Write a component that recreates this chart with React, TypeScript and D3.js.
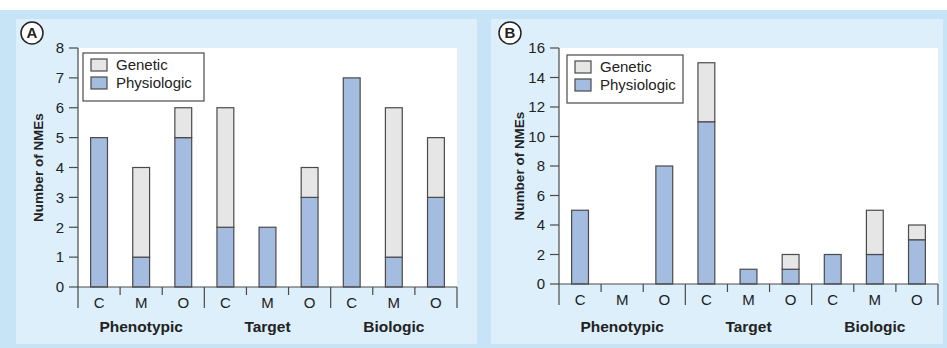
import * as d3 from 'd3'
import { useEffect, useRef } from 'react'

const groups = ['Phenotypic', 'Target', 'Biologic']
const subs = ['C', 'M', 'O']
const seriesNames = ['Genetic', 'Physiologic']

// panel A
const physA = [5, 1, 5, 2, 2, 3, 7, 1, 3]
const genA = [0, 3, 1, 4, 0, 1, 0, 5, 2]
const ticksA = [0, 1, 2, 3, 4, 5, 6, 7, 8]

// panel B
const physB = [5, 0, 8, 11, 1, 1, 2, 2, 3]
const genB = [0, 0, 0, 4, 0, 1, 0, 3, 1]
const ticksB = [0, 2, 4, 6, 8, 10, 12, 14, 16]

const BLUE = '#a3bce0'
const GREY = '#e6e6e6'
const STROKE = '#4a4a4a'
const FONT = '"Liberation Sans", Arial, sans-serif'

function drawPanel(svg, opt) {
  const g = svg.append('g')
  g.append('rect').attr('x', opt.px).attr('y', 19).attr('width', opt.pw).attr('height', 325).attr('fill', '#ddeffb')

  const keys = groups.flatMap(gr => subs.map(s => gr + '-' + s))
  const x = d3.scaleBand().domain(keys).range([opt.x0, opt.x1]).paddingInner(0).paddingOuter(0)
  const y = d3.scaleLinear().domain([0, opt.max]).range([opt.y0, 48])

  g.append('rect').attr('x', opt.x0).attr('y', 48).attr('width', opt.x1 - opt.x0).attr('height', opt.y0 - 48).attr('fill', '#fff')

  // y axis
  g.append('line').attr('x1', opt.x0).attr('x2', opt.x0).attr('y1', 48).attr('y2', opt.y0).attr('stroke', STROKE).attr('stroke-width', 1.2)
  opt.ticks.forEach(t => {
    g.append('line').attr('x1', opt.x0 - 9).attr('x2', opt.x0).attr('y1', y(t)).attr('y2', y(t)).attr('stroke', STROKE).attr('stroke-width', 1.2)
    g.append('text').attr('x', opt.x0 - 14).attr('y', y(t)).attr('dy', '0.35em').attr('text-anchor', 'end')
      .style('font', `15px ${FONT}`).attr('fill', '#222').text(t)
  })
  g.append('text').attr('transform', `translate(${opt.x0 - 40},${(48 + opt.y0) / 2}) rotate(-90)`)
    .attr('text-anchor', 'middle').attr('dy', '0.35em').style('font', `bold 13.5px ${FONT}`).attr('fill', '#222').text('Number of NMEs')

  // bars
  const bw = x.bandwidth() * 0.4
  keys.forEach((k, i) => {
    const cx = x(k) + x.bandwidth() / 2
    const p = opt.phys[i], gn = opt.gen[i]
    if (p > 0) {
      g.append('rect').attr('x', cx - bw / 2).attr('y', y(p)).attr('width', bw).attr('height', y(0) - y(p))
        .attr('fill', BLUE).attr('stroke', STROKE).attr('stroke-width', 1.2)
    }
    if (gn > 0) {
      g.append('rect').attr('x', cx - bw / 2).attr('y', y(p + gn)).attr('width', bw).attr('height', y(p) - y(p + gn))
        .attr('fill', GREY).attr('stroke', STROKE).attr('stroke-width', 1.2)
    }
  })

  // x axis
  g.append('line').attr('x1', opt.x0).attr('x2', opt.x1).attr('y1', opt.y0).attr('y2', opt.y0).attr('stroke', STROKE).attr('stroke-width', 1.2)
  keys.forEach((k, i) => {
    const big = i % 3 === 0
    g.append('line').attr('x1', x(k)).attr('x2', x(k)).attr('y1', opt.y0).attr('y2', opt.y0 + (big ? 21 : 8))
      .attr('stroke', STROKE).attr('stroke-width', 1.2)
    g.append('text').attr('x', x(k) + x.bandwidth() / 2).attr('y', opt.y0 + 16).attr('dy', '0.35em').attr('text-anchor', 'middle')
      .style('font', `15px ${FONT}`).attr('fill', '#222').text(subs[i % 3])
  })
  g.append('line').attr('x1', opt.x1).attr('x2', opt.x1).attr('y1', opt.y0).attr('y2', opt.y0 + 21).attr('stroke', STROKE).attr('stroke-width', 1.2)
  groups.forEach(gr => {
    const cx = (x(gr + '-C') + x(gr + '-O') + x.bandwidth()) / 2
    g.append('text').attr('x', cx).attr('y', 327).attr('dy', '0.35em').attr('text-anchor', 'middle')
      .style('font', `bold 15.5px ${FONT}`).attr('fill', '#222').text(gr)
  })

  // legend
  const L = opt.legend
  g.append('rect').attr('x', L.x).attr('y', L.y).attr('width', L.w).attr('height', 48).attr('fill', '#fff').attr('stroke', STROKE).attr('stroke-width', 1.2)
  seriesNames.forEach((s, i) => {
    g.append('rect').attr('x', L.x + 8).attr('y', L.y + 6 + i * 18).attr('width', 16).attr('height', 12)
      .attr('fill', i === 0 ? GREY : BLUE).attr('stroke', STROKE).attr('stroke-width', 1.2)
    g.append('text').attr('x', L.x + 33).attr('y', L.y + 12 + i * 18).attr('dy', '0.35em')
      .style('font', `15px ${FONT}`).attr('fill', '#222').text(s)
  })

  // panel letter
  g.append('circle').attr('cx', opt.lx).attr('cy', 33).attr('r', 11).attr('fill', '#fff').attr('stroke', '#222').attr('stroke-width', 1.5)
  g.append('text').attr('x', opt.lx).attr('y', 33).attr('dy', '0.36em').attr('text-anchor', 'middle')
    .style('font', `bold 15px ${FONT}`).attr('fill', '#222').text(opt.letter)
}

export default function App() {
  const ref = useRef(null)
  useEffect(() => {
    const svg = d3.select(ref.current)
    svg.selectAll('*').remove()
    svg.append('rect').attr('x', 0).attr('y', 10).attr('width', 947).attr('height', 338).attr('fill', '#c6e4f6')
    drawPanel(svg, {
      px: 16, pw: 461, x0: 78, x1: 457, y0: 287, max: 8, ticks: ticksA, phys: physA, gen: genA,
      legend: { x: 83, y: 53, w: 121 }, lx: 32, letter: 'A'
    })
    drawPanel(svg, {
      px: 491, pw: 452, x0: 559, x1: 938, y0: 284, max: 16, ticks: ticksB, phys: physB, gen: genB,
      legend: { x: 567, y: 55, w: 116 }, lx: 510, letter: 'B'
    })
  }, [])
  return (
    <svg ref={ref} width={947} height={348} style={{ position: 'absolute', left: 0, top: 0, display: 'block' }} />
  )
}
